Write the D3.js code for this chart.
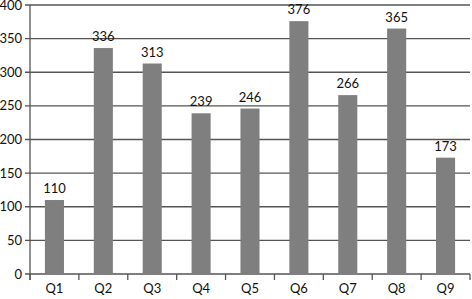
<!DOCTYPE html>
<html><head><meta charset="utf-8">
<script src="https://cdn.jsdelivr.net/npm/d3@7"></script>
<style>body{margin:0;background:#fff}svg{display:block}</style>
</head><body>
<svg id="c" width="472" height="299"></svg>
<script>
const categories = ["Q1","Q2","Q3","Q4","Q5","Q6","Q7","Q8","Q9"];
const values = [110,336,313,239,246,376,266,365,173];
const yTicks = [0,50,100,150,200,250,300,350,400];

const svg = d3.select("#c");
const x = d3.scaleBand().domain(categories).range([30, 470]).paddingInner(0.61).paddingOuter(0.305);
const y = d3.scaleLinear().domain([0,400]).range([274, 5]);
const font = "Lato, 'Open Sans', sans-serif";

// gridlines
svg.append("g").selectAll("line").data(yTicks).join("line")
  .attr("x1", 25).attr("x2", 470)
  .attr("y1", d=>y(d)).attr("y2", d=>y(d))
  .attr("stroke", "#555").attr("stroke-width", 1.3);

// bars
svg.append("g").selectAll("rect").data(values).join("rect")
  .attr("x", (d,i)=>x(categories[i]))
  .attr("width", x.bandwidth())
  .attr("y", d=>y(d)).attr("height", d=>y(0)-y(d))
  .attr("fill", "#7f7f7f");

// y axis
svg.append("line").attr("x1",30).attr("x2",30).attr("y1",5).attr("y2",280)
  .attr("stroke","#555").attr("stroke-width",1.3);
// x ticks at band boundaries
const step = x.step();
const bounds = d3.range(categories.length + 1).map(i => 30 + i*step);
svg.append("g").selectAll("line").data(bounds).join("line")
  .attr("x1", d=>d).attr("x2", d=>d).attr("y1", 274).attr("y2", 280)
  .attr("stroke","#555").attr("stroke-width",1.3);

// y labels
svg.append("g").selectAll("text").data(yTicks).join("text")
  .attr("x", 22).attr("y", d=>y(d)).attr("dy","0.35em")
  .attr("text-anchor","end").attr("font-family",font).attr("font-size",13)
  .attr("fill","#111").text(d=>d);

// x labels
svg.append("g").selectAll("text").data(categories).join("text")
  .attr("x", d=>x(d)+x.bandwidth()/2).attr("y", 293)
  .attr("text-anchor","middle").attr("font-family",font).attr("font-size",13)
  .attr("fill","#111").text(d=>d);

// value labels
svg.append("g").selectAll("text").data(values).join("text")
  .attr("x", (d,i)=>x(categories[i])+x.bandwidth()/2).attr("y", d=>y(d)-7)
  .attr("text-anchor","middle").attr("font-family",font).attr("font-size",13)
  .attr("fill","#111").text(d=>d);
</script>
</body></html>
